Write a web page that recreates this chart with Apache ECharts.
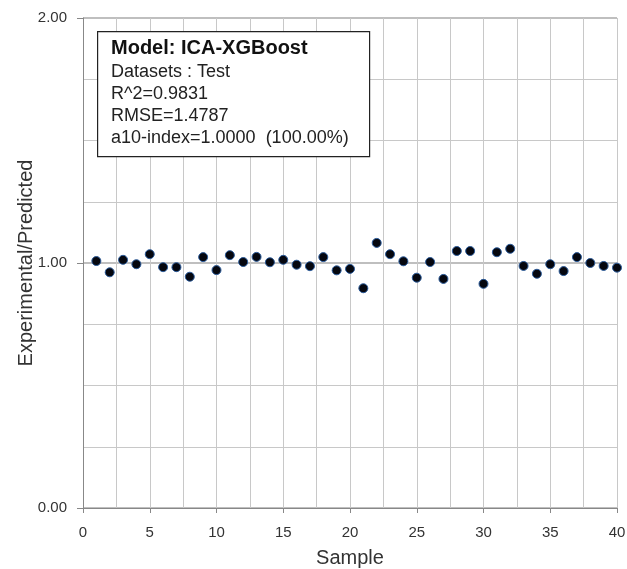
<!DOCTYPE html>
<html><head><meta charset="utf-8">
<script src="https://cdn.jsdelivr.net/npm/echarts@6/dist/echarts.min.js"></script>
<style>html,body{margin:0;padding:0;background:#fff}#c{width:627px;height:569px}</style>
</head><body><div id="c"></div>
<script>
const samples = [1,2,3,4,5,6,7,8,9,10,11,12,13,14,15,16,17,18,19,20,21,22,23,24,25,26,27,28,29,30,31,32,33,34,35,36,37,38,39,40];
const ratios = [1.008,0.962,1.013,0.995,1.036,0.983,0.983,0.944,1.024,0.971,1.032,1.004,1.025,1.003,1.013,0.993,0.987,1.024,0.970,0.976,0.897,1.082,1.036,1.007,0.940,1.004,0.935,1.049,1.049,0.915,1.044,1.058,0.988,0.956,0.995,0.967,1.024,1.000,0.988,0.981];
const infoLines = ['Model: ICA-XGBoost','Datasets : Test','R^2=0.9831','RMSE=1.4787','a10-index=1.0000  (100.00%)'];

const chart = echarts.init(document.getElementById('c'));
const gridCol = '#c8c8c8';
chart.setOption({
  animation:false,
  grid:{left:83,right:10,top:18,bottom:61,outerBoundsMode:'none',containLabel:false},
  xAxis:{type:'value',min:0,max:40,interval:5,
    name:'Sample',nameLocation:'middle',nameGap:40,nameMoveOverlap:false,
    nameTextStyle:{fontFamily:'Liberation Sans',fontSize:20,color:'#333'},
    axisLine:{show:true,lineStyle:{color:'#888',width:1}},
    axisTick:{show:true,length:5,lineStyle:{color:'#888'}},
    axisLabel:{fontFamily:'Liberation Sans',fontSize:15,color:'#333',margin:17},
    splitLine:{show:true,lineStyle:{color:gridCol,width:1}},
    minorTick:{show:false,splitNumber:2},
    minorSplitLine:{show:true,lineStyle:{color:gridCol,width:1}}
  },
  yAxis:{type:'value',min:0,max:2,interval:1,
    name:'Experimental/Predicted',nameLocation:'middle',nameGap:47,nameMoveOverlap:false,
    nameTextStyle:{fontFamily:'Liberation Sans',fontSize:20,color:'#333'},
    axisLine:{show:true,lineStyle:{color:'#888',width:1}},
    axisTick:{show:true,length:6,lineStyle:{color:'#888'}},
    axisLabel:{fontFamily:'Liberation Sans',fontSize:15,color:'#333',margin:16,formatter:v=>v.toFixed(2)},
    splitLine:{show:true,lineStyle:{color:'#aaa',width:1.5}},
    minorTick:{show:false,splitNumber:4},
    minorSplitLine:{show:true,lineStyle:{color:gridCol,width:1}}
  },
  series:[{type:'scatter',data:samples.map((s,i)=>[s,ratios[i]]),
    symbolSize:9,itemStyle:{color:'#05070f',opacity:1,borderColor:'#2a5a9a',borderWidth:1}}],
  graphic:[
    {type:'rect',left:97,top:31,shape:{width:272,height:125},style:{fill:'#fff',stroke:'#222',lineWidth:1.2},z:10},
    {type:'text',left:111,top:38,z:11,style:{text:infoLines[0],font:'bold 20px "Liberation Sans"',fill:'#111'}},
    {type:'text',left:111,top:61,z:11,style:{text:infoLines.slice(1).join('\n'),font:'18px "Liberation Sans"',lineHeight:22,fill:'#222'}}
  ]
});
</script></body></html>
